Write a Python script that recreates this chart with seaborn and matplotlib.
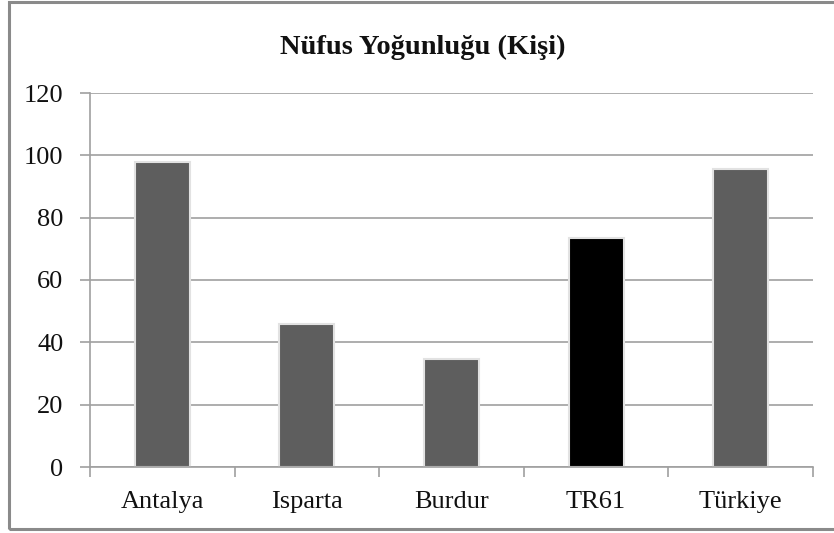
import matplotlib
matplotlib.use("Agg")
import matplotlib.pyplot as plt
import seaborn as sns
import pandas as pd
from matplotlib.patches import Rectangle
from matplotlib.ticker import FixedLocator, MultipleLocator

categories = ["Antalya", "Isparta", "Burdur", "TR61", "Türkiye"]
values = [97.8, 46.0, 34.8, 73.5, 95.7]
colors = {"Antalya": "#5e5e5e", "Isparta": "#5e5e5e", "Burdur": "#5e5e5e",
          "TR61": "#000000", "Türkiye": "#5e5e5e"}
title = "Nüfus Yoğunluğu (Kişi)"

sns.set_theme(style="white")
plt.rcParams["font.family"] = ["Liberation Serif", "DejaVu Serif"]

df = pd.DataFrame({"cat": categories, "val": values})

fig = plt.figure(figsize=(8.34, 5.33), dpi=100)
ax = fig.add_axes([90/834, 1-467/533, (813-90)/834, (467-93)/533])

sns.barplot(data=df, x="cat", y="val", hue="cat", palette=colors, legend=False,
            width=0.38, ax=ax, edgecolor="#e2e2e2", linewidth=1.5, saturation=1)

ax.set_ylim(0, 120)
ax.set_xlim(-0.5, 4.5)
ax.yaxis.set_major_locator(MultipleLocator(20))
ax.grid(axis="y", color="#a0a0a0", linewidth=1.2)
ax.set_axisbelow(True)
ax.set_xlabel("")
ax.set_ylabel("")

for s in ["top", "right"]:
    ax.spines[s].set_visible(False)
for s in ["left", "bottom"]:
    ax.spines[s].set_color("#a0a0a0")
    ax.spines[s].set_linewidth(1.2)

ax.xaxis.set_minor_locator(FixedLocator([-0.5, 0.5, 1.5, 2.5, 3.5, 4.5]))
ax.tick_params(axis="x", which="major", length=0, pad=17, labelsize=19, labelcolor="#111111")
ax.tick_params(axis="x", which="minor", length=7, width=1.2, color="#a0a0a0", direction="out", bottom=True)
ax.tick_params(axis="y", which="major", length=7, width=1.2, color="#a0a0a0", direction="out",
               left=True, pad=12, labelsize=19, labelcolor="#111111")

fig.text(423/834, 1-47/533, title, ha="center", va="center", fontsize=20.5, fontweight="bold",
         color="#111111")

frame = Rectangle((9/834, 1-529/533), 1.0, (529-2)/533, transform=fig.transFigure,
                  fill=False, edgecolor="#8a8a8a", linewidth=2.2, clip_on=False)
fig.patches.append(frame)

fig.savefig("out.png", dpi=100, facecolor="white")
